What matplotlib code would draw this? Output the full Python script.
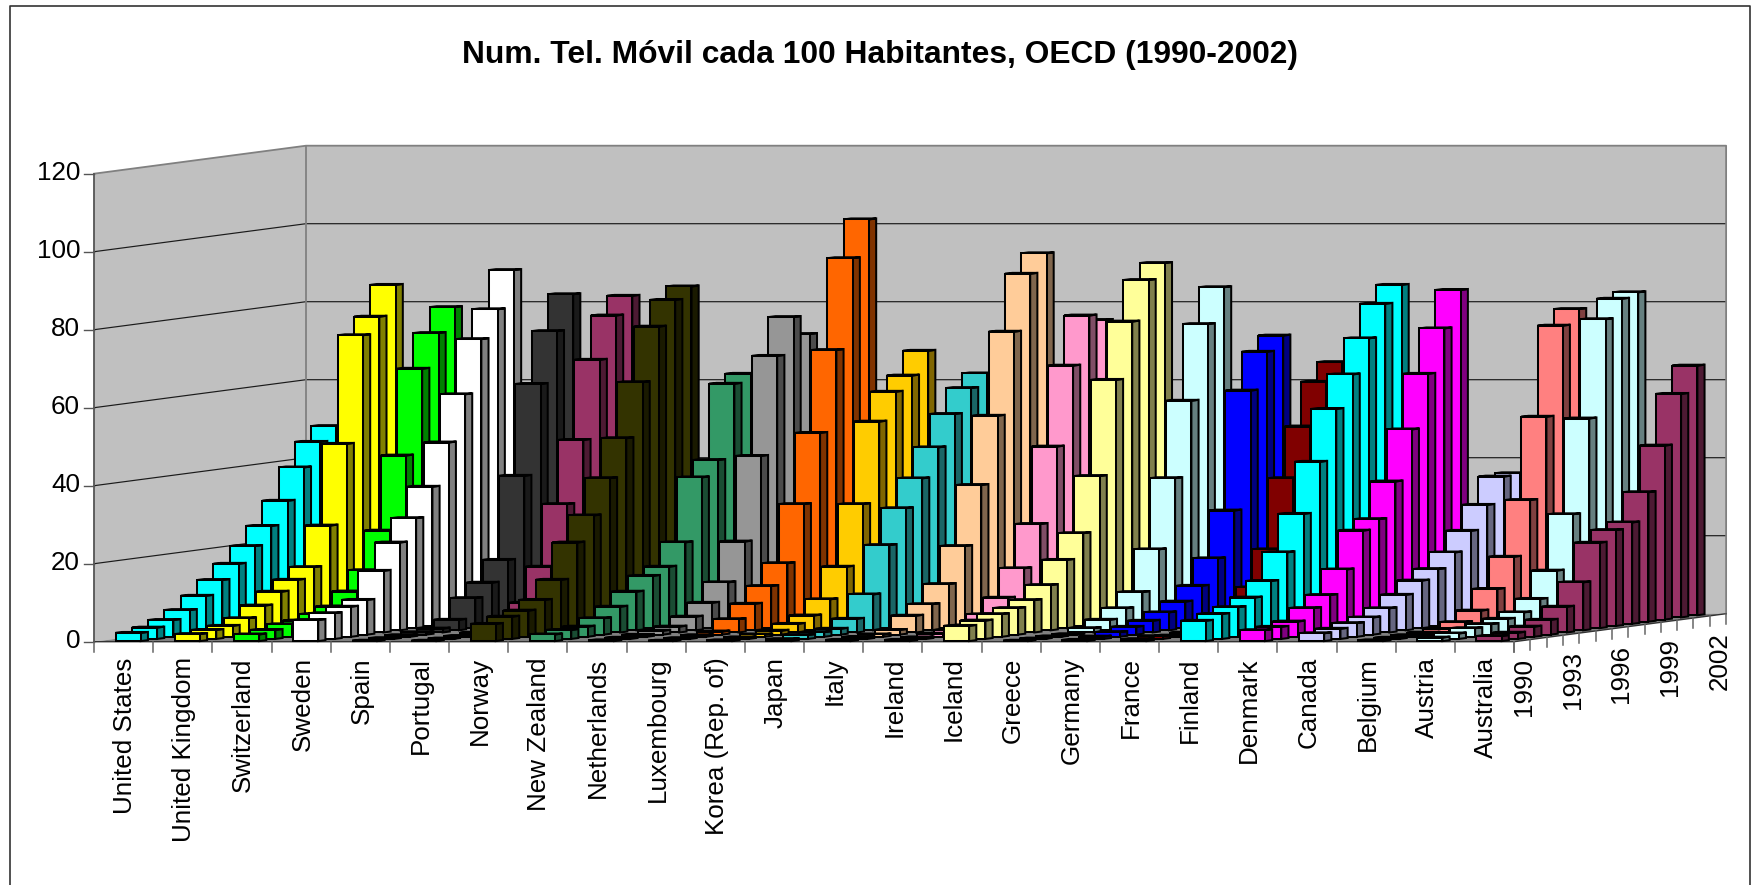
import matplotlib
matplotlib.use("Agg")
import matplotlib.pyplot as plt
from matplotlib.colors import to_rgb

plt.rcParams['font.family'] = ['Liberation Sans', 'DejaVu Sans']

years = list(range(1990, 2003))
year_labels = ['1990', '1993', '1996', '1999', '2002']
countries = ['United States', 'United Kingdom', 'Switzerland', 'Sweden', 'Spain', 'Portugal',
             'Norway', 'New Zealand', 'Netherlands', 'Luxembourg', 'Korea (Rep. of)', 'Japan',
             'Italy', 'Ireland', 'Iceland', 'Greece', 'Germany', 'France', 'Finland', 'Denmark',
             'Canada', 'Belgium', 'Austria', 'Australia']
value_ticks = [0, 20, 40, 60, 80, 100, 120]

united_states = [2.1, 2.9, 4.3, 6.3, 9.4, 12.9, 16.5, 20.5, 25.1, 31.0, 39.0, 45.0, 48.5]
united_kingdom = [1.8, 2.3, 2.8, 4.2, 6.9, 9.9, 12.4, 15.1, 25.2, 45.6, 72.9, 77.1, 84.7]
switzerland = [1.7, 2.3, 3.2, 3.6, 4.7, 6.1, 9.4, 14.3, 23.9, 42.6, 64.3, 72.9, 79.0]
sweden = [5.4, 6.6, 7.7, 8.9, 15.8, 22.5, 28.2, 35.7, 46.5, 58.3, 71.9, 79.0, 88.5]
spain = [0.1, 0.2, 0.4, 0.6, 1.0, 2.7, 7.7, 11.1, 16.4, 37.4, 60.4, 73.4, 82.3]
portugal = [0.1, 0.1, 0.2, 0.5, 1.0, 3.4, 6.5, 15.2, 30.7, 46.6, 66.6, 77.4, 81.9]
norway = [4.4, 5.7, 6.7, 8.9, 13.5, 22.5, 28.9, 37.9, 47.6, 61.4, 75.1, 81.4, 84.3]
new_zealand = [1.7, 2.3, 2.6, 4.2, 6.6, 9.9, 13.4, 15.2, 20.9, 37.0, 40.9, 59.9, 61.9]
netherlands = [0.2, 0.3, 0.5, 1.0, 1.5, 3.5, 6.5, 11.2, 21.1, 42.5, 67.6, 77.0, 72.1]
luxembourg = [0.1, 0.2, 0.4, 0.8, 3.4, 6.8, 10.8, 16.1, 30.7, 48.4, 69.1, 92.1, 101.5]
korea = [0.2, 0.4, 0.6, 1.0, 2.2, 3.8, 7.4, 15.2, 30.7, 51.3, 58.4, 62.0, 67.8]
japan = [0.5, 1.0, 1.2, 1.5, 3.5, 9.2, 21.3, 30.2, 37.3, 44.7, 52.7, 58.8, 62.0]
italy = [0.3, 0.5, 0.6, 1.2, 4.3, 6.7, 11.3, 20.5, 35.6, 52.8, 73.8, 88.1, 92.8]
ireland = [0.3, 0.4, 0.8, 1.2, 1.8, 4.1, 7.8, 14.8, 25.6, 44.9, 65.1, 77.4, 75.7]
iceland = [3.9, 4.7, 5.8, 6.8, 8.3, 11.6, 17.5, 23.8, 37.9, 62.0, 76.4, 86.5, 90.3]
greece = [0.1, 0.1, 0.1, 0.1, 1.1, 2.7, 5.1, 8.7, 19.1, 36.8, 56.1, 75.2, 84.1]
germany = [0.3, 0.6, 1.2, 2.0, 3.0, 4.6, 6.8, 10.3, 16.8, 28.5, 58.7, 68.1, 71.7]
france = [0.5, 0.7, 0.3, 0.5, 0.8, 1.3, 4.2, 9.9, 19.1, 36.8, 49.5, 60.4, 64.9]
finland = [5.2, 6.4, 7.6, 9.5, 13.2, 20.0, 29.3, 42.1, 55.1, 63.4, 72.1, 80.4, 84.7]
denmark = [2.8, 3.1, 3.9, 6.8, 9.6, 15.6, 25.0, 27.4, 36.5, 49.3, 63.0, 74.1, 83.4]
canada = [2.0, 2.6, 3.5, 4.4, 6.2, 9.1, 12.2, 14.6, 18.3, 23.3, 29.4, 36.1, 36.4]
belgium = [0.2, 0.3, 0.4, 0.5, 0.9, 2.1, 4.5, 9.5, 17.2, 31.2, 52.0, 74.8, 78.5]
austria = [0.9, 1.4, 2.2, 2.7, 3.5, 4.6, 7.5, 14.2, 28.1, 52.1, 77.0, 81.7, 82.8]
australia = [1.3, 1.6, 2.6, 3.8, 6.6, 12.3, 21.9, 24.6, 26.0, 33.2, 44.6, 57.3, 64.0]

series = [united_states, united_kingdom, switzerland, sweden, spain, portugal, norway,
          new_zealand, netherlands, luxembourg, korea, japan, italy, ireland, iceland,
          greece, germany, france, finland, denmark, canada, belgium, austria, australia]

colors = ['#00FFFF', '#FFFF00', '#00FF00', '#FFFFFF', '#333333', '#993366', '#333300', '#339966',
          '#969696', '#FF6600', '#FFCC00', '#33CCCC', '#FFCC99', '#FF99CC', '#FFFF99', '#CCFFFF',
          '#0000FF', '#800000', '#00FFFF', '#FF00FF', '#CCCCFF', '#FF8080', '#CCFFFF', '#993366']

# oblique projection, in pixels of the 1751 x 885 canvas
X0, Y0 = 94.0, 641.7
CAT_W, DEPTH_X, DEPTH_Y, UNIT = 59.17, 16.31, 2.154, 3.9


def px(cat, depth, value=0.0):
    return X0 + cat * CAT_W + depth * DEPTH_X, Y0 - depth * DEPTH_Y - value * UNIT


fig = plt.figure(figsize=(17.51, 8.85), dpi=100, facecolor='white')
ax = fig.add_axes([0, 0, 1, 1])
ax.set_xlim(0, 1751)
ax.set_ylim(885, 0)
ax.axis('off')

n_c, n_y = len(countries), len(years)
vmax = value_ticks[-1]
FS = 18.7

# outer frame, open at the bottom where the picture is cut
ax.plot([10, 10, 1750, 1750], [890, 5.5, 5.5, 890], color='#333333', lw=1.2, zorder=1)

# walls and floor
wall = [px(0, 0), px(0, 0, vmax), px(0, n_y, vmax), px(n_c, n_y, vmax), px(n_c, n_y), px(0, n_y)]
ax.fill(*zip(*wall), fc='#C0C0C0', ec='none', zorder=1)
floor = [px(0, 0), px(n_c, 0), px(n_c, n_y), px(0, n_y)]
ax.fill(*zip(*floor), fc='#808080', ec='none', zorder=1)

for v in value_ticks[1:-1]:
    pts = [px(0, 0, v), px(0, n_y, v), px(n_c, n_y, v)]
    ax.plot(*zip(*pts), color='#1a1a1a', lw=0.85, zorder=2)
pts = [px(0, 0, vmax), px(0, n_y, vmax), px(n_c, n_y, vmax), px(n_c, n_y)]
ax.plot(*zip(*pts), color='#808080', lw=1.3, zorder=2)
ax.plot(*zip(px(0, n_y), px(0, n_y, vmax)), color='#808080', lw=1.3, zorder=2)
ax.plot(*zip(px(0, 0), px(0, 0, vmax)), color='#555555', lw=1.3, zorder=2)
ax.plot(*zip(px(0, 0), px(n_c, 0), px(n_c, n_y)), color='#333333', lw=1.0, zorder=2)

# ticks and tick labels
for v in value_ticks:
    x, y = px(0, 0, v)
    ax.plot([x - 10, x], [y, y], color='#555555', lw=1.0, zorder=2)
    ax.text(x - 14, y - 0.5, str(v), ha='right', va='center', fontsize=FS, color='black')
for c in range(n_c + 1):
    x, y = px(c, 0)
    ax.plot([x, x], [y, y + 10], color='#666666', lw=1.1, zorder=2)
for c, name in enumerate(countries):
    x, y = px(c + 0.5, 0)
    ax.text(x + 8.4, y + 15.5, name, rotation=90, rotation_mode='anchor', ha='right', va='baseline',
            fontsize=FS, color='black')
for k in range(n_y + 1):
    x, y = px(n_c, k)
    ax.plot([x, x], [y, y + 10], color='#666666', lw=1.1, zorder=2)
for k, yr in enumerate(years):
    if str(yr) in year_labels:
        x, y = px(n_c, k + 0.5)
        ax.text(x + 8.4, y + 17, str(yr), rotation=90, rotation_mode='anchor', ha='right', va='baseline',
                fontsize=FS, color='black')

# bars, back row first and left to right inside a row
LEFT, RIGHT, NEAR, FAR = 0.287, 0.713, 0.28, 0.72
z = 10.0
for k in range(n_y - 1, -1, -1):
    for c in range(n_c):
        v = series[c][k]
        face = to_rgb(colors[c])
        dark = tuple(p * 0.5 for p in face)
        xl, xr = c + LEFT, c + RIGHT
        zn, zf = k + NEAR, k + FAR
        side = [px(xr, zn), px(xr, zf), px(xr, zf, v), px(xr, zn, v)]
        top = [px(xl, zn, v), px(xr, zn, v), px(xr, zf, v), px(xl, zf, v)]
        front = [px(xl, zn), px(xr, zn), px(xr, zn, v), px(xl, zn, v)]
        for poly, col in ((side, dark), (top, dark), (front, face)):
            ax.fill(*zip(*poly), fc=col, ec='black', lw=1.45, joinstyle='miter', zorder=z)
            z += 0.001

ax.text(880, 55.5, 'Num. Tel. Móvil cada 100 Habitantes, OECD (1990-2002)', ha='center', va='center',
        fontsize=22.9, fontweight='bold', color='black', zorder=50)

fig.savefig('out.png', dpi=100, facecolor='white')
